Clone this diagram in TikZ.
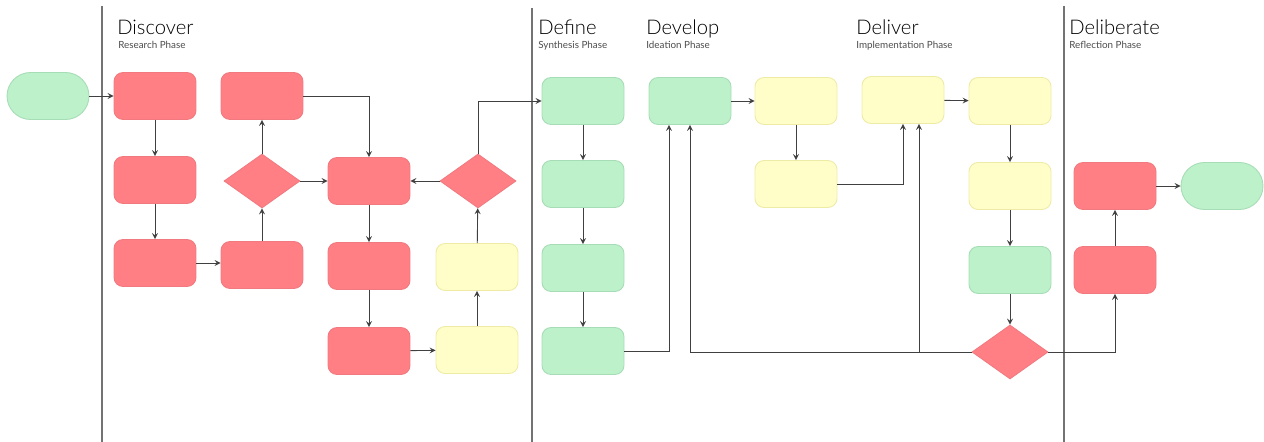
\documentclass[tikz,border=0pt]{standalone}
\usepackage{fontspec}
\setmainfont{Lato}
\newfontfamily\lightfont{Lato Light}
\usetikzlibrary{shapes.geometric}

\definecolor{redfill}{HTML}{FF7F84}
\definecolor{redline}{HTML}{F07A80}
\definecolor{greenfill}{HTML}{BCF1CA}
\definecolor{greenline}{HTML}{A6DDB6}
\definecolor{yellowfill}{HTML}{FFFEC8}
\definecolor{yellowline}{HTML}{EDEBA6}

\begin{document}
\begin{tikzpicture}[>=stealth, x=0.02cm, y=-0.02cm,
  box/.style={shape=rectangle, rounded corners=0.18cm, minimum width=1.64cm, minimum height=0.94cm, line width=0.5pt},
  term/.style={box, rounded corners=0.47cm},
  choice/.style={shape=diamond, inner sep=0pt, minimum width=1.52cm, minimum height=1.08cm, line width=0.5pt},
  red/.style={fill=redfill, draw=redline},
  green/.style={fill=greenfill, draw=greenline},
  yellow/.style={fill=yellowfill, draw=yellowline},
  link/.style={->, line width=0.5pt, draw=black!75},
  lane/.style={line width=0.8pt, draw=black!55},
  phase/.style={anchor=base west, inner sep=0pt, font=\lightfont\fontsize{11.5}{14}\selectfont},
  sub/.style={anchor=base west, inner sep=0pt, font=\fontsize{5.6}{6}\selectfont, text=black!70}]
\useasboundingbox (0,0) rectangle (1264,442);
% phase dividers
\draw [lane] (102,6) -- (102,442);
\draw [lane] (532,8) -- (532,442);
\draw [lane] (1064,6) -- (1064,442);
% phase titles
\node (t1) at (117,35) [phase] {Discover};
\node (s1) at (118,49) [sub] {Research Phase};
\node (t2) at (538,35) [phase] {Define};
\node (s2) at (538,49) [sub] {Synthesis Phase};
\node (t3) at (646,35) [phase] {Develop};
\node (s3) at (646,49) [sub] {Ideation Phase};
\node (t4) at (856,35) [phase] {Deliver};
\node (s4) at (856,49) [sub] {Implementation Phase};
\node (t5) at (1069,35) [phase] {Deliberate};
\node (s5) at (1069,49) [sub] {Reflection Phase};
% discover
\node (start) at (48,96) [term,green] {};
\node  (r1) at (155,96)  [box,red] {};
\node  (r2) at (155,180) [box,red] {};
\node  (r3) at (155,263) [box,red] {};
\node  (r4) at (262,96)  [box,red] {};
\node  (d1) at (262,181) [choice,red] {};
\node  (r5) at (262,265) [box,red] {};
\node  (r6) at (369,181) [box,red] {};
\node  (r7) at (369,266) [box,red] {};
\node  (r8) at (369,351) [box,red] {};
\node  (y1) at (477,267) [box,yellow] {};
\node  (y2) at (477,350) [box,yellow] {};
\node  (d2) at (478,181) [choice,red] {};
% define
\node  (g1) at (583,101) [box,green] {};
\node  (g2) at (583,184) [box,green] {};
\node  (g3) at (583,268) [box,green] {};
\node  (g4) at (583,351) [box,green] {};
% develop
\node  (g5) at (690,101) [box,green] {};
\node  (y3) at (796,101) [box,yellow] {};
\node  (y4) at (796,184) [box,yellow] {};
% deliver
\node  (y5) at (903,100) [box,yellow] {};
\node  (y6) at (1010,101) [box,yellow] {};
\node  (y7) at (1010,186) [box,yellow] {};
\node  (g6) at (1010,270) [box,green] {};
\node  (d3) at (1010,352) [choice,red] {};
% deliberate
\node  (r9) at (1115,186) [box,red] {};
\node (r10) at (1115,270) [box,red] {};
\node (stop) at (1222,186) [term,green] {};
\coordinate (g5in) at ([xshift=-0.42cm]g5.south);
\coordinate (y5in) at ([xshift=0.32cm]y5.south);
% connectors
\draw [link] (start) -- (r1);
\draw [link] (r1) -- (r2);
\draw [link] (r2) -- (r3);
\draw [link] (r3) -- (r3 -| r5.west);
\draw [link] (r5) -- (d1);
\draw [link] (d1) -- (r4);
\draw [link] (d1) -- (r6);
\draw [link] (r4) -| (r6);
\draw [link] (d2) -- (r6);
\draw [link] (r6) -- (r7);
\draw [link] (r7) -- (r8);
\draw [link] (r8) -- (y2);
\draw [link] (y2) -- (y1);
\draw [link] (y1) -- (d2);
\draw [link] (d2) |- (g1);
\draw [link] (g1) -- (g2);
\draw [link] (g2) -- (g3);
\draw [link] (g3) -- (g4);
\draw [link] (g4.east) -| (g5in);
\draw [link] (g5) -- (y3);
\draw [link] (y3) -- (y4);
\draw [link] (y4) -| (y5);
\draw [link] (y5) -- (y6);
\draw [link] (y6) -- (y7);
\draw [link] (y7) -- (g6);
\draw [link] (g6) -- (d3);
\draw [link] (d3) -| (g5);
\draw [link] (d3.west -| y5in) -- (y5in);
\draw [link] (d3) -| (r10);
\draw [link] (r10) -- (r9);
\draw [link] (r9) -- (stop);
\end{tikzpicture}
\end{document}
